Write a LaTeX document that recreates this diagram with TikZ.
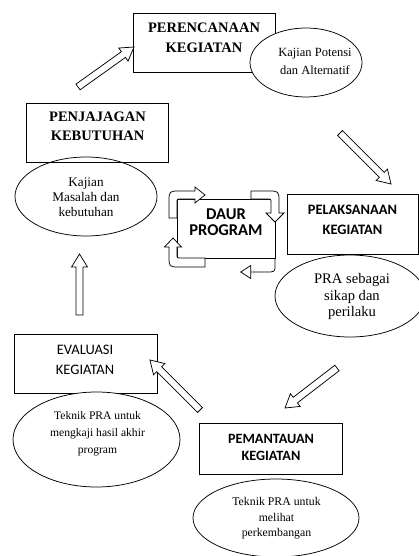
\documentclass[tikz,border=0pt]{standalone}
\usepackage{fontspec}
\setmainfont{Liberation Serif}
\newfontfamily\calfont{Carlito}
\usetikzlibrary{calc,shapes.geometric,arrows.meta}
\tikzset{
  dline/.style={line width=0.75pt, draw=black},
  boxnode/.style={dline, rectangle, inner sep=0pt},
  ellnode/.style={dline, ellipse, fill=white, inner sep=0pt},
  txt/.style={align=center, inner sep=0pt, text=black},
}
\newcommand\hollowarrow[2]{%
  \coordinate (ha-b) at ($(#2)!13pt!(#1)$);
  \draw[dline, fill=white]
    ($(#1)!3.5pt!90:(#2)$) -- ($(ha-b)!3.5pt!90:(#2)$) -- ($(ha-b)!8pt!90:(#2)$)
    -- (#2) -- ($(ha-b)!8pt!-90:(#2)$) -- ($(ha-b)!3.5pt!-90:(#2)$)
    -- ($(#1)!3.5pt!-90:(#2)$) -- cycle;}
\begin{document}
\begin{tikzpicture}[x=1pt,y=-1pt]
\useasboundingbox (0,0) rectangle (419,556);
\clip (0,0) rectangle (419,556);
\fill[white] (0,0) rectangle (419,556);

% boxes
\node[boxnode, minimum width=142pt, minimum height=59pt] (peren) at (204,42.5) {};
\node[ellnode, minimum width=112pt, minimum height=69pt] (ell1) at (306,62.5) {};
\node[ellnode, minimum width=142pt, minimum height=79pt] (ell2) at (86,196.5) {};
\node[boxnode, minimum width=142pt, minimum height=59pt] (penja) at (97,132.5) {};
\node[boxnode, minimum width=131pt, minimum height=60pt] (pelak) at (352.5,224) {};
\node[ellnode, minimum width=150pt, minimum height=82pt] (ell3) at (350,296) {};
\node[boxnode, minimum width=143pt, minimum height=59pt] (eval) at (85.5,363.5) {};
\node[ellnode, minimum width=167pt, minimum height=95pt] (ell4) at (96.5,439.5) {};
\node[boxnode, minimum width=143pt, minimum height=51pt] (peman) at (270.5,448.5) {};
\node[ellnode, minimum width=166pt, minimum height=78pt] (ell5) at (276,518) {};

% texts
\node[txt, font=\fontsize{14.5}{20}\selectfont\bfseries] (peren-t) at (204,38) {PERENCANAAN\\KEGIATAN};
\node[txt, font=\fontsize{12.5}{18}\selectfont] (ell1-t) at (315,61) {Kajian Potensi\\dan Alternatif};
\node[txt, font=\fontsize{14.5}{19}\selectfont\bfseries] (penja-t) at (97.5,126.5) {PENJAJAGAN\\KEBUTUHAN};
\node[txt, font=\fontsize{13.2}{15}\selectfont] (ell2-t) at (86,197) {Kajian\\Masalah dan\\kebutuhan};
\node[txt, font=\fontsize{14.4}{20}\selectfont\calfont\bfseries] (pelak-t) at (352.5,220) {PELAKSANAAN\\KEGIATAN};
\node[txt, font=\fontsize{14.6}{16.5}\selectfont] (ell3-t) at (352,296.5) {PRA sebagai\\sikap dan\\perilaku};
\node[txt, font=\fontsize{14.5}{20}\selectfont\calfont] (eval-t) at (85,360) {EVALUASI\\KEGIATAN};
\node[txt, font=\fontsize{11.6}{17}\selectfont] (ell4-t) at (97.5,434) {Teknik PRA untuk\\mengkaji hasil akhir\\program};
\node[txt, font=\fontsize{14.2}{17}\selectfont\calfont\bfseries] (peman-t) at (271,447.5) {PEMANTAUAN\\KEGIATAN};
\node[txt, font=\fontsize{11.8}{15.5}\selectfont] (ell5-t) at (276.5,518.5) {Teknik PRA untuk\\melihat\\perkembangan};

% block arrows
\coordinate (a1s) at (78,87);   \coordinate (a1e) at (134,47);
\coordinate (a2s) at (340,133); \coordinate (a2e) at (391,184);
\coordinate (a3s) at (79.5,315); \coordinate (a3e) at (79.5,254);
\coordinate (a4s) at (200,410); \coordinate (a4e) at (150,360);
\coordinate (a5s) at (337,368); \coordinate (a5e) at (285,408);
\hollowarrow{a1s}{a1e}
\hollowarrow{a2s}{a2e}
\hollowarrow{a3s}{a3e}
\hollowarrow{a4s}{a4e}
\hollowarrow{a5s}{a5e}

% daur program cycle
\draw[dline] (177,199) rectangle (275,258);
\draw[dline, fill=white] (169,218) -- (169,202) .. controls (169,191) .. (180,191) -- (195,191)
  -- (195,187) -- (205,195) -- (195,203) -- (195,199) -- (181,199) .. controls (177,199) .. (177,203)
  -- (177,218) -- cycle;
\draw[dline, fill=white] (251,191) -- (268,191) .. controls (279,191) .. (279,202) -- (279,213)
  -- (284,213) -- (275,222) -- (266,213) -- (271,213) -- (271,203) .. controls (271,199) .. (267,199)
  -- (251,199) -- cycle;
\draw[dline, fill=white] (205,267) -- (180,267) .. controls (169,267) .. (169,256) -- (169,247)
  -- (164.5,247) -- (173,238) -- (181.5,247) -- (177,247) -- (177,254) .. controls (177,258) .. (181,258)
  -- (205,258) -- cycle;
\coordinate (daur-in) at (275,258);
\coordinate (daur-out) at (240,272);
\draw[dline, -{Triangle[open, length=11pt, width=14pt]}] (daur-in) -- (275,265) .. controls (275,272) .. (266,272) -- (daur-out);
\node[txt, font=\fontsize{16.5}{16.5}\selectfont\calfont\bfseries] (daur) at (226,222) {DAUR\\PROGRAM};
\end{tikzpicture}
\end{document}
